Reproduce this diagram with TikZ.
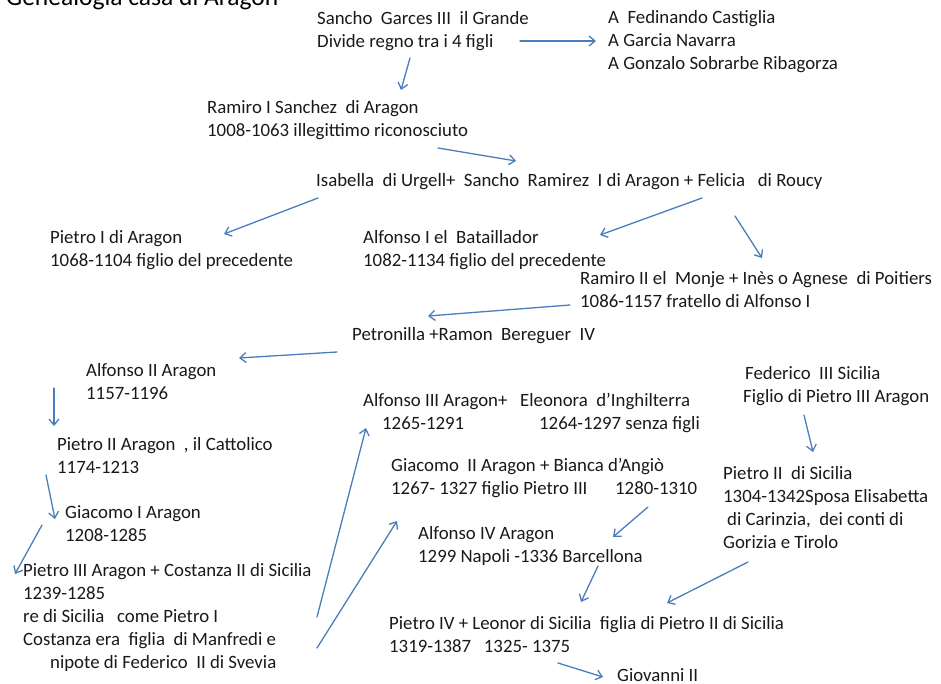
\documentclass[tikz,border=0pt]{standalone}
\usepackage{fontspec}
\setmainfont{Carlito}
\usetikzlibrary{arrows.meta}
\definecolor{arrblue}{HTML}{4A7EBB}
\begin{document}
\begin{tikzpicture}[x=1pt,y=-1pt,
  lbl/.style={anchor=north west,inner sep=0pt,align=left,text=black!90,font=\fontsize{18.8}{23}\selectfont},
  arr/.style={draw=arrblue,line width=1.3pt,line cap=round,-{Straight Barb[length=6pt,width=10pt]}}]
\useasboundingbox (0,0) rectangle (941,684);
% title
\node[anchor=base west,inner sep=0pt,font=\fontsize{25.5}{28}\selectfont] (title) at (6,6) {Genealogia casa di Aragon};
% nodes
\node[lbl] (sancho) at (317,11) {Sancho\ \ Garces III\ \ il Grande\\Divide regno tra i 4 figli};
\node[lbl] (alist) at (608,10) {A\ \ Fedinando Castiglia\\A Garcia Navarra\\A Gonzalo Sobrarbe Ribagorza};
\node[lbl] (ramiro1) at (207,100) {Ramiro I Sanchez\ \ di Aragon\\1008-1063 illegittimo riconosciuto};
\node[lbl] (sanchoR) at (316,173) {Isabella\ \ di Urgell+\ \ Sancho\ \ Ramirez\ \ I di Aragon + Felicia\ \ \ di Roucy};
\node[lbl] (pietro1) at (50,230) {Pietro I di Aragon\\1068-1104 figlio del precedente};
\node[lbl] (alfonso1) at (363,230) {Alfonso I el\ \ Bataillador\\1082-1134 figlio del precedente};
\node[lbl] (ramiro2) at (580,271) {Ramiro II el\ \ Monje + Inès o Agnese\ \ di Poitiers\\1086-1157 fratello di Alfonso I};
\node[lbl] (petronilla) at (352,327) {Petronilla +Ramon\ \ Bereguer\ \ IV};
\node[lbl] (alfonso2) at (86,363) {Alfonso II Aragon\\1157-1196};
\node[lbl] (pietro2) at (57,437) {Pietro II Aragon\ \ , il Cattolico\\1174-1213};
\node[lbl] (giacomo1) at (65,505) {Giacomo I Aragon\\1208-1285};
\node[lbl] (pietro3) at (23,563) {Pietro III Aragon + Costanza II di Sicilia\\1239-1285\\re di Sicilia\ \ \ come Pietro I\\Costanza era\ \ figlia\ \ di Manfredi e\\\hspace*{27pt}nipote di Federico\ \ II di Svevia};
\node[lbl] (alfonso3) at (363,393) {Alfonso III Aragon+\ \ \ Eleonora\ \ d’Inghilterra\\\makebox[176pt][l]{\hspace*{19pt}1265-1291}1264-1297 senza figli};
\node[lbl] (giacomo2) at (391,458) {Giacomo\ \ II Aragon + Bianca d’Angiò\\\makebox[224pt][l]{1267- 1327 figlio Pietro III}1280-1310};
\node[lbl] (alfonso4) at (418,526) {Alfonso IV Aragon\\1299 Napoli -1336 Barcellona};
\node[lbl] (federico) at (743,366) {\hspace*{2pt}Federico\ \ III Sicilia\\Figlio di Pietro III Aragon};
\node[lbl] (pietro2s) at (723,466) {Pietro II\ \ di Sicilia\\1304-1342Sposa Elisabetta\\\hspace*{4pt}di Carinzia,\ \ dei conti di\\Gorizia e Tirolo};
\node[lbl] (pietro4) at (389,616) {Pietro IV + Leonor di Sicilia\ \ figlia di Pietro II di Sicilia\\1319-1387\ \ \ 1325- 1375};
\node[lbl] (giovanni) at (617,668) {Giovanni II};
% arrow end points
\coordinate (a1s) at (520,41);  \coordinate (a1e) at (596,41);
\coordinate (a2s) at (410,58);  \coordinate (a2e) at (401,90);
\coordinate (a3s) at (438,148); \coordinate (a3e) at (516,161);
\coordinate (a4s) at (318,198); \coordinate (a4e) at (224,234);
\coordinate (a5s) at (702,198); \coordinate (a5e) at (600,235);
\coordinate (a6s) at (735,216); \coordinate (a6e) at (762,258);
\coordinate (a7s) at (570,305); \coordinate (a7e) at (428,316);
\coordinate (a8s) at (337,352); \coordinate (a8e) at (239,358);
\coordinate (a9s) at (54,388);  \coordinate (a9e) at (54,426);
\coordinate (a10s) at (46,475); \coordinate (a10e) at (55,519);
\coordinate (a11s) at (42,525); \coordinate (a11e) at (15,574);
\coordinate (a12s) at (317,617); \coordinate (a12e) at (366,428);
\coordinate (a13s) at (317,648); \coordinate (a13e) at (397,521);
\coordinate (a14s) at (648,507); \coordinate (a14e) at (613,537);
\coordinate (a15s) at (804,415); \coordinate (a15e) at (813,452);
\coordinate (a16s) at (748,562); \coordinate (a16e) at (667,603);
\coordinate (a17s) at (598,566); \coordinate (a17e) at (581,602);
\coordinate (a18s) at (558,663); \coordinate (a18e) at (603,677);
\foreach \i in {1,...,18} { \draw[arr] (a\i s) -- (a\i e); }
\end{tikzpicture}
\end{document}
